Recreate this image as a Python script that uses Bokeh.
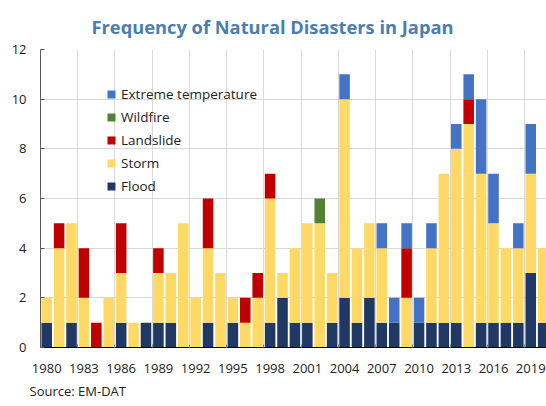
from bokeh.plotting import figure
from bokeh.models import ColumnDataSource, FixedTicker, Legend, LegendItem, Title
from bokeh.embed import file_html
from bokeh.resources import INLINE

years = list(range(1980, 2021))
flood = [1, 0, 1, 0, 0, 0, 1, 0, 1, 1,
         1, 0, 0, 1, 0, 1, 0, 0, 1, 2,
         1, 1, 0, 1, 2, 1, 2, 1, 1, 0,
         1, 1, 1, 1, 0, 1, 1, 1, 1, 3, 1]
storm = [1, 4, 4, 2, 0, 2, 2, 1, 0, 2,
         2, 5, 2, 3, 3, 1, 1, 2, 5, 1,
         3, 4, 5, 2, 8, 3, 3, 3, 0, 2,
         0, 3, 6, 7, 9, 6, 4, 3, 3, 4, 3]
landslide = [0, 1, 0, 2, 1, 0, 2, 0, 0, 1,
             0, 0, 0, 2, 0, 0, 1, 1, 1, 0,
             0, 0, 0, 0, 0, 0, 0, 0, 0, 2,
             0, 0, 0, 0, 1, 0, 0, 0, 0, 0, 0]
wildfire = [0, 0, 0, 0, 0, 0, 0, 0, 0, 0,
            0, 0, 0, 0, 0, 0, 0, 0, 0, 0,
            0, 0, 1, 0, 0, 0, 0, 0, 0, 0,
            0, 0, 0, 0, 0, 0, 0, 0, 0, 0, 0]
extreme = [0, 0, 0, 0, 0, 0, 0, 0, 0, 0,
           0, 0, 0, 0, 0, 0, 0, 0, 0, 0,
           0, 0, 0, 0, 1, 0, 0, 1, 1, 1,
           1, 1, 0, 1, 1, 3, 2, 0, 1, 2, 0]

series_names = ["Flood", "Storm", "Landslide", "Wildfire", "Extreme temperature"]
series_keys = ["flood", "storm", "landslide", "wildfire", "extreme"]
colors = ["#1f3864", "#ffd966", "#c00000", "#548235", "#4472c4"]
tick_years = list(range(1980, 2020, 3))
grid_years = [y + 2.5 for y in range(1980, 2017, 3)]
y_ticks = [0, 2, 4, 6, 8, 10, 12]
title_text = "Frequency of Natural Disasters in Japan"
source_text = "Source: EM-DAT"

source = ColumnDataSource(data=dict(year=years, flood=flood, storm=storm,
                                    landslide=landslide, wildfire=wildfire,
                                    extreme=extreme))

p = figure(width=546, height=406, output_backend="svg", toolbar_location=None,
           x_range=(1979.5, 2020.27), y_range=(0, 12),
           min_border_left=40, min_border_right=0, min_border_top=49,
           min_border_bottom=59)

p.title.text = title_text
p.title.align = "left"
p.title.offset = 51
p.title.standoff = 22
p.title.text_font = "Open Sans"
p.title.text_font_size = "18.3px"
p.title.text_font_style = "bold"
p.title.text_color = "#4a7eb0"

renderers = p.vbar_stack(series_keys, x="year", width=0.85, color=colors,
                         line_color=None, source=source)

items = [LegendItem(label=series_names[i], renderers=[renderers[i]])
         for i in range(len(series_names) - 1, -1, -1)]
legend = Legend(items=items, location=(66, 152), padding=0, margin=0,
                border_line_color=None, background_fill_alpha=0,
                label_text_font="Open Sans", label_text_font_size="13.5px",
                label_text_color="#222222",
                glyph_width=10, glyph_height=10, label_standoff=5,
                spacing=5, label_height=14)
p.add_layout(legend)

p.outline_line_color = None
p.xgrid.ticker = FixedTicker(ticks=grid_years)
p.ygrid.ticker = FixedTicker(ticks=y_ticks)
p.xgrid.grid_line_color = "#d9d9d9"
p.ygrid.grid_line_color = "#d9d9d9"

p.xaxis.ticker = FixedTicker(ticks=tick_years, minor_ticks=grid_years)
p.xaxis.axis_line_color = "black"
p.xaxis.major_tick_in = 0
p.xaxis.major_tick_out = 0
p.xaxis.minor_tick_in = 3
p.xaxis.minor_tick_out = 0
p.xaxis.minor_tick_line_color = "#808080"
p.xaxis.major_label_standoff = 16
p.xaxis.major_label_text_font = "Open Sans"
p.xaxis.major_label_text_font_size = "13px"
p.xaxis.major_label_text_color = "#222222"

p.yaxis.ticker = FixedTicker(ticks=y_ticks)
p.yaxis.axis_line_color = "#595959"
p.yaxis.major_tick_line_color = "#595959"
p.yaxis.major_tick_in = 4
p.yaxis.major_tick_out = 0
p.yaxis.minor_tick_line_color = None
p.yaxis.major_label_standoff = 14
p.yaxis.major_label_text_font = "Open Sans"
p.yaxis.major_label_text_font_size = "13px"
p.yaxis.major_label_text_color = "#222222"

src = Title(text=source_text, align="left", offset=-11, standoff=9,
            text_font="Open Sans", text_font_size="13px",
            text_font_style="normal", text_color="#222222")
p.add_layout(src, "below")

open("out.html", "w").write(file_html(p, INLINE))
